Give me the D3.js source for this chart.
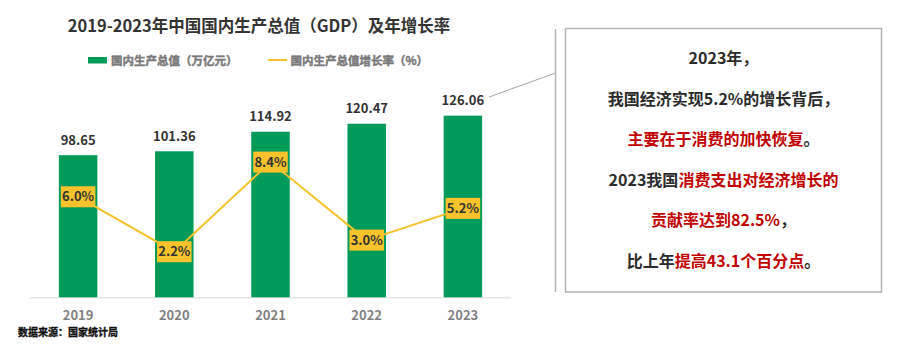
<!DOCTYPE html>
<html>
<head>
<meta charset="utf-8">
<script src="https://cdn.jsdelivr.net/npm/d3@7"></script>
<style>
	body { margin: 0; background: #fff; }
	svg { display: block; font-family: "Noto Sans CJK SC", "Noto Sans", sans-serif; }
	svg text { font-weight: 700; }
</style>
</head>
<body>
<div id="chart"></div>
<script>
// data
const years = ['2019', '2020', '2021', '2022', '2023'];
const gdp = [98.65, 101.36, 114.92, 120.47, 126.06];
const growth = [6.0, 2.2, 8.4, 3.0, 5.2];

const titleText = '2019-2023年中国国内生产总值（GDP）及年增长率';
const legendLabels = ['国内生产总值（万亿元）', '国内生产总值增长率（%）'];
const sourceText = '数据来源：国家统计局';

// note lines, each a list of [text, isRed]
const noteLines = [
	[['2023年，', false]],
	[['我国经济实现5.2%的增长背后，', false]],
	[['主要在于消费的加快恢复', true], ['。', false]],
	[['2023我国', false], ['消费支出对经济增长的', true]],
	[['贡献率达到82.5%', true], ['，', false]],
	[['比上年', false], ['提高43.1个百分点', true], ['。', false]]
];

const width = 908, height = 346;
const green = '#009b58', yellow = '#f7c22b', dark = '#2b2b2b', red = '#c00000';

const svg = d3.select('#chart').append('svg').attr('width', width).attr('height', height);

// scales
const x = d3.scaleBand().domain(years).range([30, 511]).paddingInner(0.6).paddingOuter(0.3);
const y = d3.scaleLinear().domain([0, 140]).range([297.3, 95.6]);
const y2 = d3.scaleLinear().domain([0, 13]).range([283.5, 95.6]);

// title
svg.append('text')
	.attr('x', 259).attr('y', 32)
	.attr('text-anchor', 'middle')
	.attr('font-size', 16.5)
	.attr('fill', '#333')
	.text(titleText);

// legend (thin stroke to thicken the small bold text)
const legend = svg.append('g')
	.attr('font-size', 11.5)
	.attr('fill', '#7a7a7a')
	.attr('stroke', '#7a7a7a')
	.attr('stroke-width', 0.45);
legend.append('rect').attr('x', 88).attr('y', 57).attr('width', 19).attr('height', 6.5).attr('fill', green).attr('stroke', 'none');
legend.append('text').attr('x', 111).attr('y', 64.5).text(legendLabels[0]);
legend.append('line').attr('x1', 268).attr('x2', 287).attr('y1', 60).attr('y2', 60).attr('stroke', yellow).attr('stroke-width', 2);
legend.append('text').attr('x', 290.5).attr('y', 64.5).text(legendLabels[1]);

// axis line
svg.append('line')
	.attr('x1', 30).attr('x2', 511)
	.attr('y1', y(0) + 0.5).attr('y2', y(0) + 0.5)
	.attr('stroke', '#d9d9d9').attr('stroke-width', 1);

// bars
svg.selectAll('.bar')
	.data(years)
	.enter()
	.append('rect')
	.attr('class', 'bar')
	.attr('x', (d) => x(d))
	.attr('width', x.bandwidth())
	.attr('y', (d, i) => y(gdp[i]))
	.attr('height', (d, i) => y(0) - y(gdp[i]))
	.attr('fill', green);

// bar value labels
svg.selectAll('.bar-label')
	.data(years)
	.enter()
	.append('text')
	.attr('class', 'bar-label')
	.attr('x', (d) => x(d) + x.bandwidth() / 2)
	.attr('y', (d, i) => y(gdp[i]) - 10.5)
	.attr('text-anchor', 'middle')
	.attr('font-size', 13)
	.attr('fill', '#333')
	.text((d, i) => gdp[i].toFixed(2));

// x axis labels
svg.selectAll('.x-label')
	.data(years)
	.enter()
	.append('text')
	.attr('class', 'x-label')
	.attr('x', (d) => x(d) + x.bandwidth() / 2)
	.attr('y', 320)
	.attr('text-anchor', 'middle')
	.attr('font-size', 13)
	.attr('fill', '#7f7f7f')
	.text((d) => d);

// growth line
const line = d3.line()
	.x((d, i) => x(years[i]) + x.bandwidth() / 2)
	.y((d) => y2(d));

svg.append('path')
	.datum(growth)
	.attr('d', line)
	.attr('fill', 'none')
	.attr('stroke', yellow)
	.attr('stroke-width', 2);

// growth labels with boxes
const gl = svg.selectAll('.growth-label')
	.data(growth)
	.enter()
	.append('g')
	.attr('class', 'growth-label')
	.attr('transform', (d, i) => `translate(${x(years[i]) + x.bandwidth() / 2}, ${y2(d)})`);

gl.append('rect').attr('fill', yellow);
gl.append('text')
	.attr('text-anchor', 'middle')
	.attr('y', 4.5)
	.attr('font-size', 13)
	.attr('fill', '#333')
	.text((d) => d.toFixed(1) + '%');

gl.each(function () {
	const g = d3.select(this);
	const bb = g.select('text').node().getBBox();
	g.select('rect')
		.attr('x', -bb.width / 2 - 1)
		.attr('y', -10.5)
		.attr('width', bb.width + 2)
		.attr('height', 21);
});

// source
svg.append('text')
	.attr('x', 18).attr('y', 336)
	.attr('font-size', 10)
	.attr('fill', '#111')
	.attr('stroke', '#111')
	.attr('stroke-width', 0.35)
	.text(sourceText);

// callout: connector, divider and box
svg.append('line')
	.attr('x1', 489).attr('y1', 97)
	.attr('x2', 555.5).attr('y2', 73)
	.attr('stroke', '#a6a6a6').attr('stroke-width', 1);

svg.append('line')
	.attr('x1', 555.5).attr('x2', 555.5)
	.attr('y1', 29).attr('y2', 292)
	.attr('stroke', '#b3b3b3').attr('stroke-width', 1.5);

svg.append('rect')
	.attr('x', 565.5).attr('y', 28.5)
	.attr('width', 316).attr('height', 263.5)
	.attr('fill', '#fff')
	.attr('stroke', '#b3b3b3').attr('stroke-width', 1.5);

const note = svg.append('text')
	.attr('text-anchor', 'middle')
	.attr('font-size', 16)
	.attr('fill', dark);

noteLines.forEach((parts, i) => {
	parts.forEach((p, j) => {
		const s = note.append('tspan').attr('fill', p[1] ? red : dark).text(p[0]);
		if (j === 0) s.attr('x', 723.5).attr('y', 64 + i * 40.6);
	});
});
</script>
</body>
</html>
